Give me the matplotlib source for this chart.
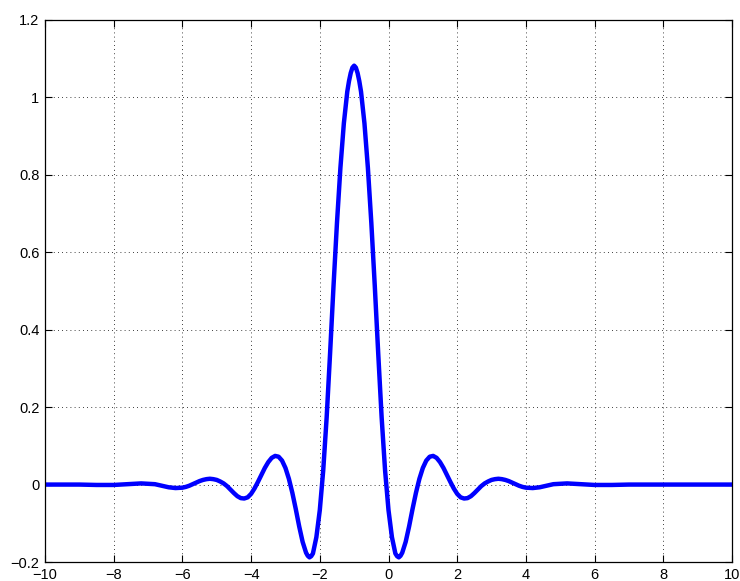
import matplotlib
matplotlib.use('Agg')
import matplotlib.pyplot as plt

# curve values (x, y)
x = [-10.0, -9.0, -8.5, -8.0, -7.6, -7.2, -6.8, -6.6, -6.4, -6.2, -6.0, -5.9,
     -5.8, -5.7, -5.6, -5.5, -5.4, -5.3, -5.2, -5.1, -5.0, -4.9, -4.8, -4.7,
     -4.6, -4.5, -4.4, -4.3, -4.2, -4.1, -4.0, -3.9, -3.8, -3.7, -3.6, -3.5,
     -3.4, -3.3, -3.2, -3.1, -3.0, -2.9, -2.8, -2.7, -2.6, -2.5, -2.4, -2.35,
     -2.3, -2.25, -2.2, -2.1, -2.0, -1.9, -1.8, -1.7, -1.6, -1.5, -1.4, -1.3,
     -1.2, -1.15, -1.1, -1.05, -1.0,
     -0.95, -0.9, -0.85, -0.8, -0.7, -0.6, -0.5, -0.4, -0.3, -0.2, -0.1, 0.0,
     0.1, 0.2, 0.25, 0.3, 0.35, 0.4, 0.5, 0.6, 0.7, 0.8, 0.9, 1.0,
     1.1, 1.2, 1.3, 1.4, 1.5, 1.6, 1.7, 1.8, 1.9, 2.0, 2.1, 2.2,
     2.3, 2.4, 2.5, 2.6, 2.7, 2.8, 2.9, 3.0, 3.1, 3.2, 3.3, 3.4,
     3.5, 3.6, 3.7, 3.8, 3.9, 4.0, 4.2, 4.4, 4.6, 4.8, 5.2, 5.6,
     6.0, 6.5, 7.0, 8.0, 9.0, 10.0]
y = [0.0, 0.0, -0.001, -0.001, 0.001, 0.003, 0.001, -0.003, -0.007, -0.009, -0.008, -0.006,
     -0.003, 0.001, 0.005, 0.009, 0.012, 0.014, 0.015, 0.014, 0.012, 0.008, 0.003, -0.004,
     -0.013, -0.022, -0.030, -0.035, -0.036, -0.033, -0.024, -0.010, 0.007, 0.025, 0.043, 0.058,
     0.069, 0.074, 0.072, 0.062, 0.043, 0.015, -0.021, -0.063, -0.108, -0.148, -0.176, -0.184,
     -0.188, -0.185, -0.178, -0.136, -0.066, 0.037, 0.174, 0.340, 0.514, 0.676, 0.818, 0.933,
     1.015, 1.042, 1.063, 1.077, 1.082,
     1.077, 1.063, 1.042, 1.015, 0.933, 0.818, 0.676, 0.514, 0.340, 0.174, 0.037, -0.066,
     -0.136, -0.178, -0.185, -0.188, -0.184, -0.176, -0.148, -0.108, -0.063, -0.021, 0.015, 0.043,
     0.062, 0.072, 0.074, 0.069, 0.058, 0.043, 0.025, 0.007, -0.010, -0.024, -0.033, -0.036,
     -0.035, -0.030, -0.022, -0.013, -0.004, 0.003, 0.008, 0.012, 0.014, 0.015, 0.014, 0.012,
     0.009, 0.005, 0.001, -0.003, -0.006, -0.008, -0.009, -0.007, -0.003, 0.001, 0.003, 0.001,
     -0.001, -0.001, 0.0, 0.0, 0.0, 0.0]

xticks = [-10, -8, -6, -4, -2, 0, 2, 4, 6, 8, 10]
yticks = [-0.2, 0, 0.2, 0.4, 0.6, 0.8, 1, 1.2]
xlabels = ['\u221210', '\u22128', '\u22126', '\u22124', '\u22122', '0', '2', '4', '6', '8', '10']
ylabels = ['\u22120.2', '0', '0.2', '0.4', '0.6', '0.8', '1', '1.2']

plt.rcParams['font.family'] = ['Liberation Sans', 'DejaVu Sans']

fig = plt.figure(figsize=(7.4, 5.81), dpi=100)
ax = fig.add_axes([0.0608, 0.0327, 0.9284, 0.9329])

ax.plot(x, y, color=(0, 0, 1), linewidth=3.2,
        solid_joinstyle='round', solid_capstyle='round')

ax.set_xlim(-10, 10)
ax.set_ylim(-0.2, 1.2)
ax.set_xticks(xticks)
ax.set_yticks(yticks)
ax.set_xticklabels(xlabels)
ax.set_yticklabels(ylabels)

# matlab style: dotted grid, ticks inside on all four sides
ax.grid(True, color='black', linestyle=(0, (1, 4)), linewidth=0.6)
ax.tick_params(direction='in', length=5, width=0.8, top=True, right=True,
               labelsize=10.5, pad=4)
for s in ax.spines.values():
    s.set_linewidth(0.9)

fig.savefig('out.png', dpi=100)
